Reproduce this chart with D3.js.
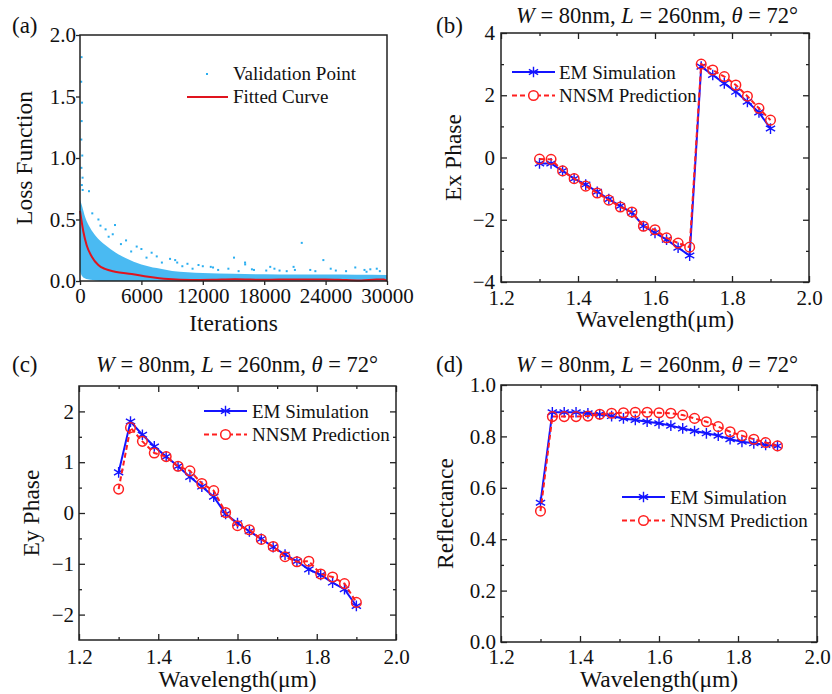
<!DOCTYPE html>
<html>
<head>
<meta charset="utf-8">
<script src="https://cdn.jsdelivr.net/npm/d3@7"></script>
<style>
  body { margin: 0; background: #fff; }
  text { font-family: "Liberation Serif", "Times New Roman", serif; fill: #111; }
</style>
</head>
<body>
<div id="chart"></div>
<script>
// ---- data ----
let wavelength = [1.30, 1.33, 1.36, 1.39, 1.42, 1.45, 1.48, 1.51, 1.54, 1.57, 1.60,
                  1.63, 1.66, 1.69, 1.72, 1.75, 1.78, 1.81, 1.84, 1.87, 1.90];

let exPhaseEM = [-0.19, -0.19, -0.43, -0.68, -0.87, -1.10, -1.34, -1.56, -1.77, -2.20, -2.42,
                 -2.64, -2.90, -3.15, 2.92, 2.65, 2.38, 2.11, 1.79, 1.45, 0.93];
let exPhaseNN = [-0.05, -0.06, -0.43, -0.68, -0.92, -1.14, -1.37, -1.59, -1.75, -2.21, -2.32,
                 -2.58, -2.75, -2.88, 3.00, 2.81, 2.60, 2.33, 1.97, 1.58, 1.20];

let eyPhaseEM = [0.80, 1.80, 1.54, 1.31, 1.11, 0.92, 0.71, 0.52, 0.32, -0.02, -0.20,
                 -0.36, -0.51, -0.67, -0.82, -0.95, -1.11, -1.22, -1.37, -1.50, -1.83];
let eyPhaseNN = [0.47, 1.68, 1.41, 1.18, 1.11, 0.92, 0.83, 0.58, 0.44, 0.01, -0.25,
                 -0.33, -0.52, -0.66, -0.86, -0.96, -0.95, -1.20, -1.26, -1.39, -1.76];

let reflEM = [0.542, 0.894, 0.894, 0.894, 0.890, 0.886, 0.879, 0.870, 0.864, 0.857, 0.851,
              0.842, 0.831, 0.821, 0.812, 0.803, 0.789, 0.779, 0.773, 0.767, 0.763];
let reflNN = [0.509, 0.877, 0.877, 0.877, 0.879, 0.886, 0.890, 0.892, 0.894, 0.894, 0.892,
              0.890, 0.883, 0.870, 0.857, 0.838, 0.818, 0.803, 0.789, 0.776, 0.763];

// loss panel: fitted curve
let fitIter = [0, 330, 650, 1140, 1790, 2440, 3420, 5050, 6680, 8630, 10910,
               13000, 15150, 18000, 21000, 24000, 26000, 27500, 29000, 29700, 30000];
let fitLoss = [0.57, 0.40, 0.29, 0.20, 0.13, 0.098, 0.076, 0.057, 0.035, 0.016, 0.008,
               0.010, 0.014, 0.010, 0.013, 0.013, 0.008, 0.005, 0.013, 0.012, 0.0];

// loss panel: dense band of validation points (upper / lower edge)
let cloudIter = [0, 200, 500, 1000, 1500, 2500, 3500, 4500, 6000, 7500, 9000,
                 12000, 15000, 18000, 21000, 24000, 27000, 30000];
let cloudUpper = [0.66, 0.61, 0.52, 0.43, 0.37, 0.29, 0.23, 0.185, 0.135, 0.105, 0.082,
                  0.066, 0.058, 0.055, 0.053, 0.052, 0.050, 0.048];
let cloudLower = [0.08, 0.04, 0.02, 0.01, 0.005, 0, 0, 0, 0, 0, 0,
                  0, 0, 0, 0, 0, 0, 0];

// loss panel: scattered points outside the band
let strayIter = [150, 120, 200, 160, 130, 220, 140, 250, 180, 260,
                 880, 3420, 5540, 7500, 8800, 9300, 11580, 12780, 15050, 16130,
                 16140, 18590, 20870, 21670, 23780, 26900, 28370,
                 2000, 2800, 4000, 5000, 6500, 8000, 10000, 11000, 13500, 14500,
                 17000, 19500, 22500, 25000, 27800, 29300,
                 1200, 1800, 2500, 3200, 4500, 6000, 7000, 9500, 10500, 12000, 13000,
                 15500, 16800, 18200, 19000, 20200, 21000, 23000, 24500, 26000, 28000, 29000];
let strayLoss = [1.82, 1.62, 1.45, 1.30, 1.15, 1.02, 0.92, 0.84, 0.78, 0.74,
                 0.73, 0.455, 0.28, 0.20, 0.18, 0.17, 0.13, 0.115, 0.19, 0.15,
                 0.135, 0.115, 0.115, 0.31, 0.17, 0.11, 0.095,
                 0.45, 0.36, 0.30, 0.24, 0.19, 0.15, 0.12, 0.10, 0.09, 0.10,
                 0.09, 0.085, 0.09, 0.085, 0.09, 0.08,
                 0.55, 0.50, 0.42, 0.38, 0.33, 0.26, 0.23, 0.15, 0.14, 0.12, 0.11,
                 0.08, 0.095, 0.085, 0.10, 0.08, 0.09, 0.08, 0.10, 0.08, 0.075, 0.10];

// ticks
let lossXTicks = [0, 6000, 12000, 18000, 24000, 30000];
let lossYTicks = [0, 0.5, 1.0, 1.5, 2.0];
let waveTicks = [1.2, 1.4, 1.6, 1.8, 2.0];
let exTicks = [-4, -2, 0, 2, 4];
let eyTicks = [-2, -1, 0, 1, 2];
let reflTicks = [0, 0.2, 0.4, 0.6, 0.8, 1.0];

let legendNames = ["EM Simulation", "NNSM Prediction"];

// ---- setup ----
let svgWidth = 832;
let svgHeight = 694;

let svg = d3.select("#chart")
    .append("svg")
    .attr("width", svgWidth)
    .attr("height", svgHeight);

let blue = "#1414ff";
let red = "#ff1f1f";
let cyan = "#2aaef0";

// half-step minor ticks from the major ticks
function minorOf(ticks) {
    let out = [];
    for (let i = 0; i < ticks.length - 1; i++) out.push((ticks[i] + ticks[i + 1]) / 2);
    return out;
}

// draws box, ticks and tick labels
// o.tick > 0 : outward ticks, o.tick < 0 : inward ticks
function drawFrame(box, x, y, o) {
    let g = svg.append("g");
    let fontSize = 21;

    let bottom = d3.axisBottom(x).tickValues(o.xTicks).tickFormat(o.xFmt)
        .tickSizeInner(o.tick).tickSizeOuter(0).tickPadding(o.padX);
    let left = d3.axisLeft(y).tickValues(o.yTicks).tickFormat(o.yFmt)
        .tickSizeInner(o.tick).tickSizeOuter(0).tickPadding(o.padY);

    g.append("g").attr("transform", `translate(0,${box.bottom})`).call(bottom);
    g.append("g").attr("transform", `translate(${box.left},0)`).call(left);

    if (o.mirror) {
        g.append("g").attr("transform", `translate(0,${box.bottom})`)
            .call(d3.axisBottom(x).tickValues(minorOf(o.xTicks)).tickFormat("").tickSizeInner(-3).tickSizeOuter(0));
        g.append("g").attr("transform", `translate(${box.left},0)`)
            .call(d3.axisLeft(y).tickValues(minorOf(o.yTicks)).tickFormat("").tickSizeInner(-3).tickSizeOuter(0));
        g.append("g").attr("transform", `translate(0,${box.top})`)
            .call(d3.axisTop(x).tickValues(o.xTicks).tickFormat("").tickSizeInner(-6).tickSizeOuter(0));
        g.append("g").attr("transform", `translate(0,${box.top})`)
            .call(d3.axisTop(x).tickValues(minorOf(o.xTicks)).tickFormat("").tickSizeInner(-3).tickSizeOuter(0));
        g.append("g").attr("transform", `translate(${box.right},0)`)
            .call(d3.axisRight(y).tickValues(o.yTicks).tickFormat("").tickSizeInner(-6).tickSizeOuter(0));
        g.append("g").attr("transform", `translate(${box.right},0)`)
            .call(d3.axisRight(y).tickValues(minorOf(o.yTicks)).tickFormat("").tickSizeInner(-3).tickSizeOuter(0));
    }

    g.selectAll(".domain").remove();
    g.selectAll(".tick line").attr("stroke", "#222").attr("stroke-width", 1.3);
    g.selectAll(".tick text")
        .style("font-family", "'Liberation Serif', 'Times New Roman', serif")
        .style("font-size", fontSize + "px")
        .attr("fill", "#111");

    g.append("rect")
        .attr("x", box.left).attr("y", box.top)
        .attr("width", box.right - box.left).attr("height", box.bottom - box.top)
        .attr("fill", "none").attr("stroke", "#222").attr("stroke-width", 1.5);
}

function axisTitles(box, xTitle, yTitle, xBase, yBase) {
    svg.append("text")
        .attr("x", (box.left + box.right) / 2)
        .attr("y", xBase)
        .attr("text-anchor", "middle")
        .style("font-size", "23.5px")
        .text(xTitle);
    svg.append("text")
        .attr("transform", `translate(${yBase},${(box.top + box.bottom) / 2}) rotate(-90)`)
        .attr("text-anchor", "middle")
        .style("font-size", "23.5px")
        .text(yTitle);
}

function panelLabel(lbl, px, py) {
    svg.append("text").attr("x", px).attr("y", py)
        .style("font-size", "23px").text(lbl);
}

function paramTitle(cx, cy) {
    let t = svg.append("text").attr("x", cx).attr("y", cy)
        .attr("text-anchor", "middle").style("font-size", "22.5px");
    t.append("tspan").style("font-style", "italic").text("W");
    t.append("tspan").text(" = 80nm, ");
    t.append("tspan").style("font-style", "italic").text("L");
    t.append("tspan").text(" = 260nm, ");
    t.append("tspan").style("font-style", "italic").text("θ");
    t.append("tspan").text("  = 72°");
}

let star = d3.symbol().type(d3.symbolAsterisk).size(80);

// EM line with stars + NNSM dashed line with circles
function drawSeries(x, y, em, nn) {
    let line = d3.line().x((d, i) => x(wavelength[i])).y(d => y(d));

    svg.append("path").datum(em)
        .attr("d", line).attr("fill", "none")
        .attr("stroke", blue).attr("stroke-width", 2);
    svg.append("g").selectAll("path")
        .data(em).enter().append("path")
        .attr("d", star)
        .attr("transform", (d, i) => `translate(${x(wavelength[i])},${y(d)})`)
        .attr("fill", "none").attr("stroke", blue).attr("stroke-width", 1.4);

    svg.append("path").datum(nn)
        .attr("d", line).attr("fill", "none")
        .attr("stroke", red).attr("stroke-width", 2)
        .attr("stroke-dasharray", "5,3");
    svg.append("g").selectAll("circle")
        .data(nn).enter().append("circle")
        .attr("cx", (d, i) => x(wavelength[i]))
        .attr("cy", d => y(d))
        .attr("r", 4.8)
        .attr("fill", "none").attr("stroke", red).attr("stroke-width", 1.5);
}

function drawLegend(lx, ly, textX) {
    let g = svg.append("g");
    // EM entry
    g.append("line").attr("x1", lx).attr("x2", lx + 43).attr("y1", ly).attr("y2", ly)
        .attr("stroke", blue).attr("stroke-width", 2);
    g.append("path").attr("d", star).attr("transform", `translate(${lx + 21.5},${ly})`)
        .attr("fill", "none").attr("stroke", blue).attr("stroke-width", 1.4);
    g.append("text").attr("x", textX).attr("y", ly + 6.5)
        .style("font-size", "19px").text(legendNames[0]);
    // NNSM entry
    let ly2 = ly + 23.5;
    g.append("line").attr("x1", lx).attr("x2", lx + 43).attr("y1", ly2).attr("y2", ly2)
        .attr("stroke", red).attr("stroke-width", 2).attr("stroke-dasharray", "5,3");
    g.append("circle").attr("cx", lx + 21.5).attr("cy", ly2).attr("r", 4.8)
        .attr("fill", "white").attr("stroke", red).attr("stroke-width", 1.5);
    g.append("text").attr("x", textX).attr("y", ly2 + 6.5)
        .style("font-size", "19px").text(legendNames[1]);
}

// ---- panel (a) ----
let boxA = {left: 80, right: 387, top: 35, bottom: 281};
let xA = d3.scaleLinear().domain([0, 30000]).range([boxA.left, boxA.right]);
let yA = d3.scaleLinear().domain([0, 2]).range([boxA.bottom, boxA.top]);

let band = d3.area()
    .x((d, i) => xA(cloudIter[i]))
    .y0((d, i) => yA(cloudLower[i]))
    .y1(d => yA(d))
    .curve(d3.curveMonotoneX);

svg.append("path").datum(cloudUpper)
    .attr("d", band)
    .attr("fill", cyan).attr("opacity", 0.85);

svg.append("g").selectAll("rect")
    .data(strayLoss).enter().append("rect")
    .attr("x", (d, i) => xA(strayIter[i]) - 1)
    .attr("y", d => yA(d) - 1)
    .attr("width", 2).attr("height", 2)
    .attr("fill", cyan);

svg.append("path").datum(fitLoss)
    .attr("d", d3.line().x((d, i) => xA(fitIter[i])).y(d => yA(d)).curve(d3.curveMonotoneX))
    .attr("fill", "none").attr("stroke", "#e0141e").attr("stroke-width", 2);

drawFrame(boxA, xA, yA, {
    xTicks: lossXTicks, yTicks: lossYTicks,
    xFmt: d3.format("d"), yFmt: d3.format(".1f"),
    tick: 4, padX: 3, padY: 0, mirror: false
});
axisTitles(boxA, "Iterations", "Loss Function", 331, 32);
panelLabel("(a)", 12, 33);

// legend (a)
svg.append("rect").attr("x", 206).attr("y", 73).attr("width", 2).attr("height", 2).attr("fill", cyan);
svg.append("text").attr("x", 233).attr("y", 80).style("font-size", "19px").text("Validation Point");
svg.append("line").attr("x1", 187).attr("x2", 228).attr("y1", 97).attr("y2", 97)
    .attr("stroke", "#e0141e").attr("stroke-width", 2);
svg.append("text").attr("x", 233).attr("y", 103).style("font-size", "19px").text("Fitted Curve");

// ---- panel (b) ----
let boxB = {left: 501, right: 809, top: 33, bottom: 282};
let xB = d3.scaleLinear().domain([1.2, 2.0]).range([boxB.left, boxB.right]);
let yB = d3.scaleLinear().domain([-4, 4]).range([boxB.bottom, boxB.top]);
drawSeries(xB, yB, exPhaseEM, exPhaseNN);
drawFrame(boxB, xB, yB, {
    xTicks: waveTicks, yTicks: exTicks,
    xFmt: d3.format(".1f"), yFmt: d3.format("d"),
    tick: -6, padX: 8, padY: 6, mirror: true
});
axisTitles(boxB, "Wavelength(μm)", "Ex Phase", 327, 461);
panelLabel("(b)", 436, 33);
paramTitle(657, 23);
drawLegend(512, 72, 559);

// ---- panel (c) ----
let boxC = {left: 79, right: 396, top: 386, bottom: 640};
let xC = d3.scaleLinear().domain([1.2, 2.0]).range([boxC.left, boxC.right]);
let yC = d3.scaleLinear().domain([-2.5, 2.5]).range([boxC.bottom, boxC.top]);
drawSeries(xC, yC, eyPhaseEM, eyPhaseNN);
drawFrame(boxC, xC, yC, {
    xTicks: waveTicks, yTicks: eyTicks,
    xFmt: d3.format(".1f"), yFmt: d3.format("d"),
    tick: -6, padX: 9, padY: 5, mirror: true
});
axisTitles(boxC, "Wavelength(μm)", "Ey Phase", 687, 39);
panelLabel("(c)", 12, 372);
paramTitle(237, 372);
drawLegend(204, 411, 252);

// ---- panel (d) ----
let boxD = {left: 501, right: 817, top: 385, bottom: 642};
let xD = d3.scaleLinear().domain([1.2, 2.0]).range([boxD.left, boxD.right]);
let yD = d3.scaleLinear().domain([0, 1]).range([boxD.bottom, boxD.top]);
drawSeries(xD, yD, reflEM, reflNN);
drawFrame(boxD, xD, yD, {
    xTicks: waveTicks, yTicks: reflTicks,
    xFmt: d3.format(".1f"), yFmt: d3.format(".1f"),
    tick: -6, padX: 7, padY: 5, mirror: true
});
axisTitles(boxD, "Wavelength(μm)", "Reflectance", 687, 453);
panelLabel("(d)", 436, 372);
paramTitle(657, 372);
drawLegend(622, 497, 670);
</script>
</body>
</html>
